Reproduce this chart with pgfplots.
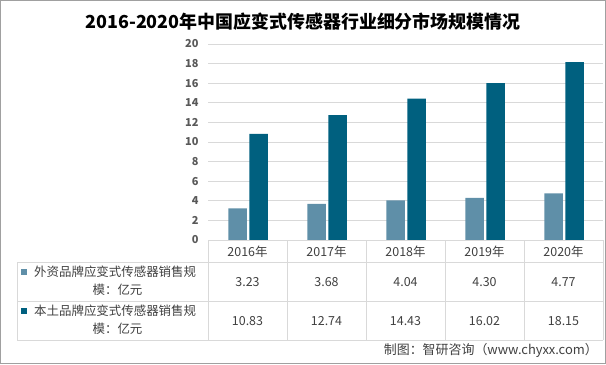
\documentclass[border=0pt]{standalone}
\usepackage{fontspec}
\usepackage{pgfplots}
\pgfplotsset{compat=1.18}
\setmainfont{Noto Sans CJK SC}
\definecolor{lightbar}{RGB}{95,143,168}
\definecolor{darkbar}{RGB}{0,96,127}
\definecolor{gridc}{RGB}{217,217,217}
\definecolor{txt}{RGB}{64,64,64}
\definecolor{tick}{RGB}{89,89,89}
\pgfplotstableread{
x foreign local
0 3.23 10.83
1 3.68 12.74
2 4.04 14.43
3 4.30 16.02
4 4.77 18.15
}\datatable
\begin{document}
\begin{tikzpicture}[x=1bp,y=1bp]
\path[use as bounding box] (0,0) rectangle (606,364);
\draw[color={rgb,255:red,160;green,160;blue,160}, line width=1bp] (0.5,0.5) rectangle (605.5,363.5);
\node[font=\fontsize{18}{18}\selectfont\bfseries, text=black] at (303,342) {2016-2020年中国应变式传感器行业细分市场规模情况};
\begin{axis}[
  at={(208bp,124bp)}, anchor=south west,
  scale only axis, width=395bp, height=196bp,
  xmin=-0.5, xmax=4.5, ymin=0, ymax=20,
  ytick={0,2,...,20}, xtick=\empty,
  ymajorgrids, grid style={gridc, line width=0.8bp},
  axis line style={draw=none},
  major tick length=0pt,
  ybar, bar width=18.5bp,
  /pgf/number format/assume math mode=true,
  yticklabel style={font=\fontsize{11}{11}\selectfont\bfseries, text=tick, xshift=-6bp},
  clip=false,
]
\addplot+[bar shift=-10bp, fill=lightbar, draw=none] table[x=x, y=foreign] {\datatable};
\addplot+[bar shift=11bp, fill=darkbar, draw=none] table[x=x, y=local] {\datatable};
\end{axis}
% table grid
\begin{scope}[gridc, line width=0.8bp]
\draw (208,124) -- (603,124);
\draw (17,102) -- (603,102);
\draw (17,63) -- (603,63);
\draw (17,24) -- (603,24);
\draw (17,102) -- (17,24);
\foreach \xx in {208,287,366,445,524,603} {\draw (\xx,124) -- (\xx,24);}
\end{scope}
\begin{scope}[every node/.style={font=\fontsize{12.5}{12.5}\selectfont, text=txt, inner sep=0pt}]
\foreach \yr [count=\i from 0] in {2016,2017,2018,2019,2020} {
  \node at (247.5+79*\i,112) {\yr 年};
}
\foreach \v [count=\i from 0] in {3.23,3.68,4.04,4.30,4.77} {
  \node at (247.5+79*\i,82) {\v};
}
\foreach \v [count=\i from 0] in {10.83,12.74,14.43,16.02,18.15} {
  \node at (247.5+79*\i,43) {\v};
}
\fill[lightbar] (21,89) rectangle (27,95);
\node[anchor=west] at (34,92) {外资品牌应变式传感器销售规};
\node at (117.5,74) {模：亿元};
\fill[darkbar] (21,50) rectangle (27,56);
\node[anchor=west] at (34,53) {本土品牌应变式传感器销售规};
\node at (117.5,35) {模：亿元};
\end{scope}
\node[anchor=east, font=\fontsize{13}{13}\selectfont, text=txt, inner sep=0pt] at (598,14) {制图：智研咨询（www.chyxx.com）};
\end{tikzpicture}
\end{document}
